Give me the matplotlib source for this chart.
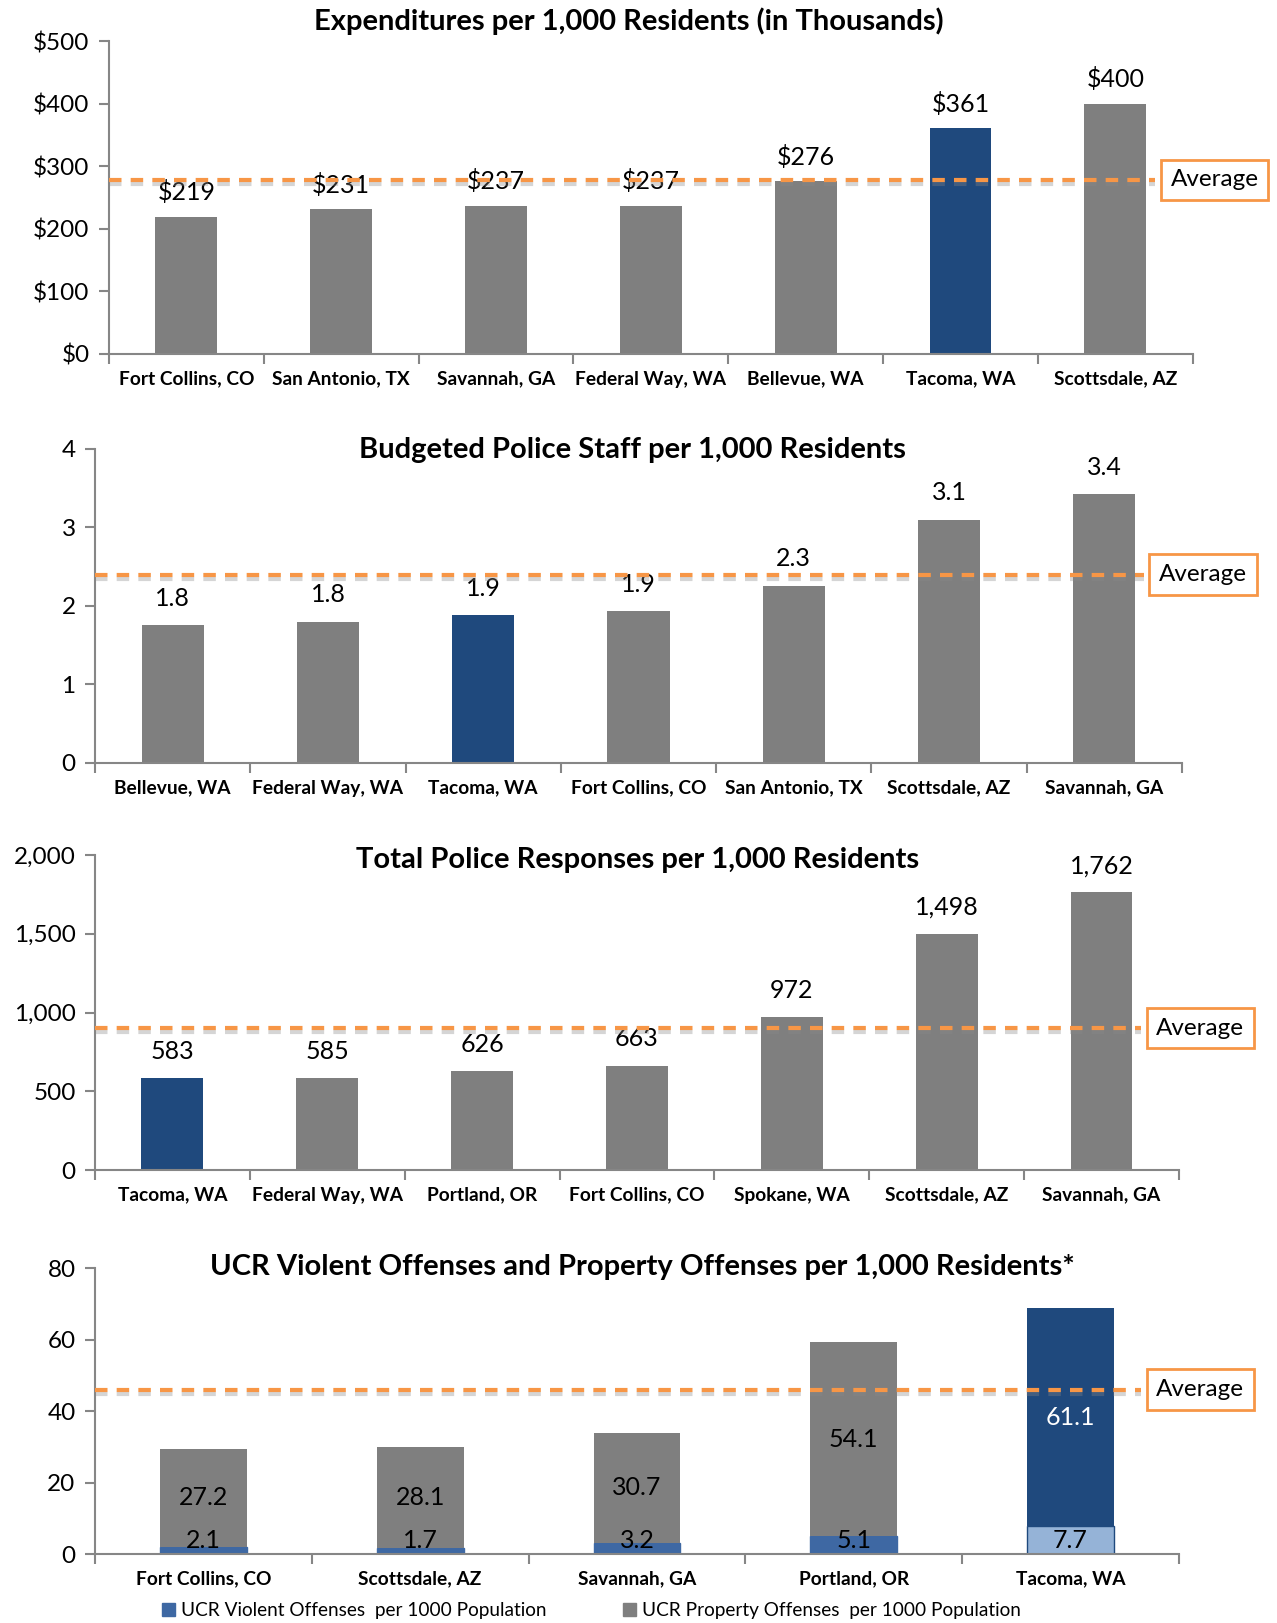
import matplotlib
matplotlib.use('Agg')
import matplotlib.pyplot as plt
import matplotlib.patheffects as pe
from matplotlib.patches import Patch
from matplotlib.transforms import blended_transform_factory
from matplotlib.ticker import FuncFormatter

plt.rcParams['font.family'] = ['Lato', 'DejaVu Sans']

GRAY = '#7F7F7F'
DARK = '#1F497D'
VIOL = '#3E68A3'
LIGHT = '#95B3D7'
ORANGE = '#F79646'
AXC = '#868686'

# chart 1
exp_cities = ['Fort Collins, CO', 'San Antonio, TX', 'Savannah, GA', 'Federal Way, WA',
              'Bellevue, WA', 'Tacoma, WA', 'Scottsdale, AZ']
exp_vals = [219, 231, 237, 237, 276, 361, 400]
exp_avg = 278

# chart 2
staff_cities = ['Bellevue, WA', 'Federal Way, WA', 'Tacoma, WA', 'Fort Collins, CO',
                'San Antonio, TX', 'Scottsdale, AZ', 'Savannah, GA']
staff_vals = [1.76, 1.80, 1.88, 1.93, 2.26, 3.10, 3.42]
staff_avg = 2.4

# chart 3
resp_cities = ['Tacoma, WA', 'Federal Way, WA', 'Portland, OR', 'Fort Collins, CO',
               'Spokane, WA', 'Scottsdale, AZ', 'Savannah, GA']
resp_vals = [583, 585, 626, 663, 972, 1498, 1762]
resp_avg = 900

# chart 4
ucr_cities = ['Fort Collins, CO', 'Scottsdale, AZ', 'Savannah, GA', 'Portland, OR', 'Tacoma, WA']
violent = [2.1, 1.7, 3.2, 5.1, 7.7]
prop = [27.2, 28.1, 30.7, 54.1, 61.1]
ucr_avg = 46

fig = plt.figure(figsize=(12.77, 16.23), dpi=100)

LBL = 18
TTL = 21


def style_axes(ax, n, ymax, step):
    ax.set_xlim(-0.5, n - 0.5)
    ax.set_ylim(0, ymax)
    ax.set_yticks(range(0, int(ymax) + 1, step))
    for s in ['top', 'right']:
        ax.spines[s].set_visible(False)
    for s in ['left', 'bottom']:
        ax.spines[s].set_color(AXC)
        ax.spines[s].set_linewidth(1.5)
    ax.set_xticks([i - 0.5 for i in range(n + 1)])
    ax.set_xticklabels([])
    ax.tick_params(axis='x', which='major', length=7, color=AXC, width=1.5)
    ax.tick_params(axis='y', length=7, color=AXC, width=1.5, labelsize=17.5, pad=7)


def city_labels(ax, cities, size=13.8):
    ax.set_xticks(range(len(cities)), minor=True)
    ax.set_xticklabels(cities, minor=True, fontweight='bold', fontsize=size)
    ax.tick_params(axis='x', which='minor', length=0, pad=12)


def avg_line(ax, y, box_x):
    tr = blended_transform_factory(ax.transAxes, ax.transData)
    ax.plot([0, 0.965], [y, y], transform=tr, color=ORANGE, lw=3, ls=(0, (3, 2.2)),
            clip_on=False, zorder=5,
            path_effects=[pe.SimpleLineShadow(offset=(0, -3), shadow_color='#888888', alpha=0.35),
                          pe.Normal()])
    tf = blended_transform_factory(fig.transFigure, ax.transData)
    ax.text(box_x, y, 'Average', transform=tf, ha='center', va='center', fontsize=17.5,
            zorder=6, bbox=dict(boxstyle='square,pad=0.4', fc='white', ec=ORANGE, lw=2))


# ---- chart 1
ax1 = fig.add_axes([0.0854, 0.7819, 0.8486, 0.1928])
c1 = [DARK if c.startswith('Tacoma') else GRAY for c in exp_cities]
ax1.bar(range(len(exp_vals)), exp_vals, width=0.4, color=c1, zorder=2)
style_axes(ax1, len(exp_vals), 500, 100)
ax1.yaxis.set_major_formatter(FuncFormatter(lambda v, p: '$%d' % v))
city_labels(ax1, exp_cities)
for i, v in enumerate(exp_vals):
    ax1.annotate('$%d' % v, (i, v), xytext=(0, 9), textcoords='offset points',
                 ha='center', va='bottom', fontsize=LBL)
avg_line(ax1, exp_avg, 0.951)
fig.text(0.4925, 0.987, 'Expenditures per 1,000 Residents (in Thousands)',
         ha='center', va='center', fontsize=TTL, fontweight='bold')

# ---- chart 2
ax2 = fig.add_axes([0.0744, 0.5299, 0.8512, 0.1935])
c2 = [DARK if c.startswith('Tacoma') else GRAY for c in staff_cities]
ax2.bar(range(len(staff_vals)), staff_vals, width=0.4, color=c2, zorder=2)
style_axes(ax2, len(staff_vals), 4, 1)
city_labels(ax2, staff_cities)
for i, v in enumerate(staff_vals):
    ax2.annotate('%.1f' % v, (i, v), xytext=(0, 11), textcoords='offset points',
                 ha='center', va='bottom', fontsize=LBL)
avg_line(ax2, staff_avg, 0.942)
fig.text(0.495, 0.7227, 'Budgeted Police Staff per 1,000 Residents',
         ha='center', va='center', fontsize=TTL, fontweight='bold')

# ---- chart 3
ax3 = fig.add_axes([0.0744, 0.2791, 0.8488, 0.1941])
c3 = [DARK if c.startswith('Tacoma') else GRAY for c in resp_cities]
ax3.bar(range(len(resp_vals)), resp_vals, width=0.4, color=c3, zorder=2)
style_axes(ax3, len(resp_vals), 2000, 500)
ax3.yaxis.set_major_formatter(FuncFormatter(lambda v, p: '{:,.0f}'.format(v)))
city_labels(ax3, resp_cities)
for i, v in enumerate(resp_vals):
    ax3.annotate('{:,}'.format(v), (i, v), xytext=(0, 11), textcoords='offset points',
                 ha='center', va='bottom', fontsize=LBL)
avg_line(ax3, resp_avg, 0.94)
fig.text(0.499, 0.470, 'Total Police Responses per 1,000 Residents',
         ha='center', va='center', fontsize=TTL, fontweight='bold')

# ---- chart 4
ax4 = fig.add_axes([0.0744, 0.0425, 0.8488, 0.1762])
n4 = len(ucr_cities)
vc = [LIGHT if c.startswith('Tacoma') else VIOL for c in ucr_cities]
ve = [DARK if c.startswith('Tacoma') else VIOL for c in ucr_cities]
pc = [DARK if c.startswith('Tacoma') else GRAY for c in ucr_cities]
ax4.bar(range(n4), violent, width=0.4, color=vc, edgecolor=ve, lw=1, zorder=2)
ax4.bar(range(n4), prop, width=0.4, bottom=violent, color=pc, zorder=2)
style_axes(ax4, n4, 80, 20)
city_labels(ax4, ucr_cities)
for i in range(n4):
    ax4.text(i, max(violent[i] / 2, 3.85), '%.1f' % violent[i], ha='center', va='center',
             fontsize=LBL)
    tc = 'white' if ucr_cities[i].startswith('Tacoma') else 'black'
    ax4.text(i, violent[i] + prop[i] / 2, '%.1f' % prop[i], ha='center', va='center',
             fontsize=LBL, color=tc)
avg_line(ax4, ucr_avg, 0.94)
fig.text(0.503, 0.2193, 'UCR Violent Offenses and Property Offenses per 1,000 Residents*',
         ha='center', va='center', fontsize=TTL, fontweight='bold')

handles = [Patch(color=VIOL, label='UCR Violent Offenses  per 1000 Population'),
           Patch(color=GRAY, label='UCR Property Offenses  per 1000 Population')]
fig.legend(handles=handles, loc='center', bbox_to_anchor=(0.463, 0.0075), ncol=2, frameon=False,
           fontsize=13.7, handlelength=0.7, handleheight=0.7, handletextpad=0.3, columnspacing=4.0)

fig.savefig('out.png', dpi=100)
